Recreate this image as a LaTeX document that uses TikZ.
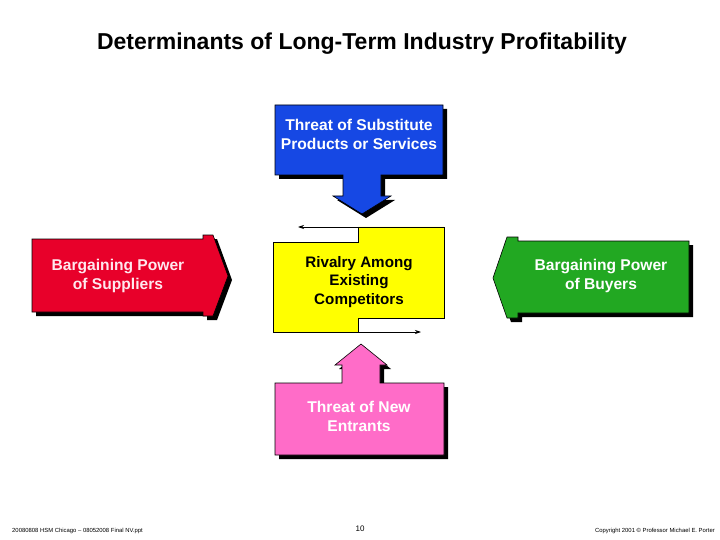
\documentclass[tikz,border=0pt]{standalone}
\usepackage{fontspec}
\setmainfont{Liberation Sans}
\usetikzlibrary{arrows.meta}
\definecolor{pblue}{RGB}{22,72,228}
\definecolor{pred}{RGB}{232,0,42}
\definecolor{pgreen}{RGB}{34,168,34}
\definecolor{ppink}{RGB}{255,108,200}
\definecolor{pyellow}{RGB}{255,255,0}
\definecolor{ptxt}{RGB}{255,232,238}
\begin{document}
\begin{tikzpicture}[x=1pt,y=-1pt,
  shadowfill/.style={fill=black, xshift=4pt, yshift=-4pt},
  force/.style={draw=black, line width=0.6pt},
  boxtext/.style={align=center, font=\bfseries\fontsize{15.6}{19}\selectfont, inner sep=0pt},
  flowarrow/.style={-{Stealth[length=6pt,width=4pt]}, line width=0.7pt},
  foot/.style={font=\fontsize{5.9}{7}\selectfont, inner sep=0pt}]
\useasboundingbox (0,0) rectangle (720,540);

% title
\node[font=\bfseries\fontsize{23}{26}\selectfont] (title) at (362,44) {Determinants of Long-Term Industry Profitability};

% substitutes (blue, down arrow)
\def\subpath{(275,105) -- (443,105) -- (443,175) -- (381,175) -- (381,196) -- (391,196) -- (362,214) -- (333,196) -- (343,196) -- (343,175) -- (275,175) -- cycle}
\fill[shadowfill] \subpath;
\filldraw[force, fill=pblue] \subpath;
\node[boxtext, text=white] (subs) at (359,134) {Threat of Substitute\\Products or Services};

% entrants (pink, up arrow)
\def\entpath{(275,383) -- (342,383) -- (342,365) -- (335,365) -- (361,344) -- (387,365) -- (380,365) -- (380,383) -- (444,383) -- (444,455) -- (275,455) -- cycle}
\fill[shadowfill] \entpath;
\filldraw[force, fill=ppink] \entpath;
\node[boxtext, text=white] (entr) at (359,416) {Threat of New\\Entrants};

% suppliers (red, right arrow)
\def\suppath{(32,239) -- (203,239) -- (203,235) -- (213,235) -- (228,276) -- (213,316) -- (203,316) -- (203,312) -- (32,312) -- cycle}
\fill[shadowfill] \suppath;
\filldraw[force, fill=pred] \suppath;
\node[boxtext, text=ptxt] (supp) at (118,276) {Bargaining Power\\of Suppliers};

% buyers (green, left arrow)
\def\buypath{(689,241) -- (518,241) -- (518,237) -- (507,237) -- (493,278) -- (507,318) -- (518,318) -- (518,313) -- (689,313) -- cycle}
\fill[shadowfill] \buypath;
\filldraw[force, fill=pgreen] \buypath;
\node[boxtext, text=white] (buyr) at (601,276) {Bargaining Power\\of Buyers};

% rivalry (yellow)
\filldraw[draw=black, line width=0.6pt, fill=pyellow] (273,242) -- (358,242) -- (358,227) -- (444,227) -- (444,318) -- (358,318) -- (358,332) -- (273,332) -- cycle;
\coordinate (rtop) at (358,227);
\coordinate (rtopend) at (298,227);
\coordinate (rbot) at (358,332);
\coordinate (rbotend) at (421,332);
\draw[flowarrow] (rtop) -- (rtopend);
\draw[flowarrow] (rbot) -- (rbotend);
\node[boxtext, font=\bfseries\fontsize{15.2}{18.5}\selectfont, text=black] (rival) at (359,282) {Rivalry Among\\Existing\\Competitors};

% footer
\node[foot, anchor=west] (footl) at (12,531) {20080808 HSM Chicago -- 08052008 Final NV.ppt};
\node[font=\fontsize{8}{9}\selectfont, inner sep=0pt] (page) at (360,529) {10};
\node[foot, anchor=east] (footr) at (715,531) {Copyright 2001 © Professor Michael E. Porter};
\end{tikzpicture}
\end{document}
